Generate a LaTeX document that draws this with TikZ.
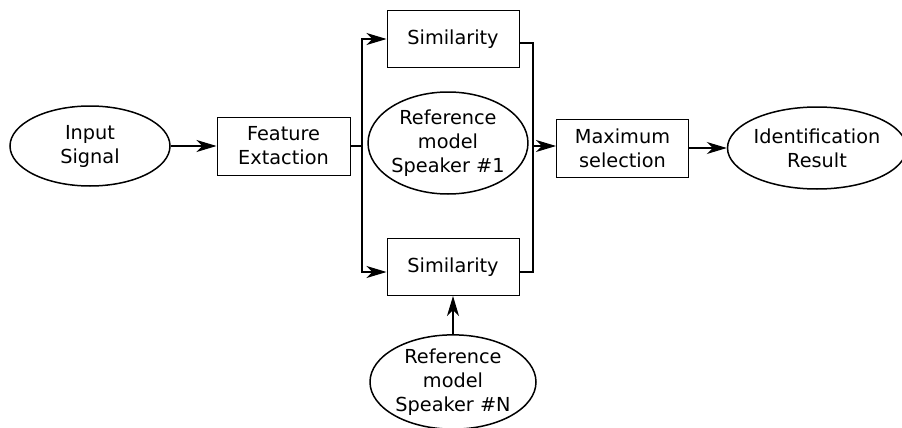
\documentclass[tikz,border=0pt]{standalone}
\usepackage{fontspec}
\setmainfont{DejaVu Sans}
\usetikzlibrary{shapes.geometric,arrows.meta}
\begin{document}
\begin{tikzpicture}[x=1pt,y=-1pt,
  every node/.style={font=\fontsize{19.3}{24}\selectfont, align=center, inner sep=0pt},
  block/.style={draw, line width=1pt, minimum width=132pt, minimum height=57pt},
  oval/.style={draw, ellipse, line width=1.5pt},
  link/.style={line width=1.1pt},
  arr/.style={link, -{Stealth[length=20pt,width=12pt,inset=6pt]}}]
\useasboundingbox (0,0) rectangle (902,428);
% nodes
\node[oval, minimum width=160pt, minimum height=80pt] (in) at (90,146) {Input\\Signal};
\node[block, minimum width=133pt, minimum height=58pt] (fe) at (283.5,146) {Feature\\Extaction};
\node[block] (s1) at (453,39) {Similarity};
\node[block] (s2) at (453,267) {Similarity};
\node[oval, minimum width=156pt, minimum height=102pt] (r1) at (448,143) {Reference\\model\\Speaker \#1};
\node[oval, minimum width=166pt, minimum height=90pt] (rn) at (453,382) {Reference\\model\\Speaker \#N};
\node[block, minimum height=58pt] (mx) at (622.5,148) {Maximum\\selection};
\node[oval, minimum width=166pt, minimum height=82pt] (id) at (817,148) {Identification\\Result};
% junction points of the parallel branches
\coordinate (jl) at (362,146);
\coordinate (jr) at (533,146);
% connectors
\draw[arr] (in.east) -- (fe.west);
\draw[link] (fe.east) -- (jl);
\draw[arr] (jl) |- (s1.west);
\draw[arr] (jl) |- ([yshift=-5pt]s2.west);
\draw[link] ([yshift=-4pt]s1.east) -| (jr) |- ([yshift=-5pt]s2.east);
\draw[arr] (jr) -- (mx.west |- jr);
\draw[arr] (mx.east) -- (id.west);
\draw[arr] (rn.north) -- (s2.south);
\end{tikzpicture}
\end{document}
